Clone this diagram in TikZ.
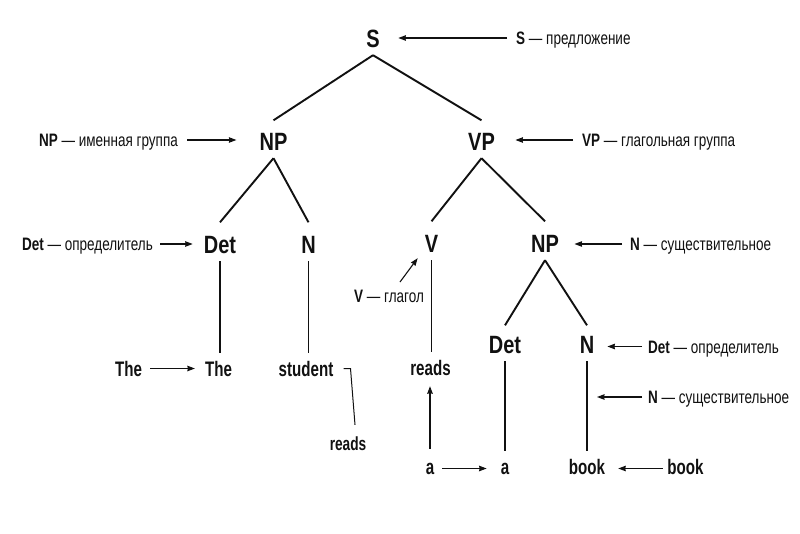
\documentclass[tikz,border=0pt]{standalone}
\usepackage{fontspec}
\setmainfont{Liberation Sans}
\newfontfamily\catfont{Liberation Sans}[FakeStretch=0.8]
\newfontfamily\leaffont{Liberation Sans}[FakeStretch=0.72]
\newfontfamily\labfont{Liberation Sans}[FakeStretch=0.75]
\usetikzlibrary{arrows.meta}
\definecolor{ink}{HTML}{111111}
\begin{document}
\begin{tikzpicture}[x=1pt,y=-1pt,
  cat/.style={font=\catfont\bfseries\fontsize{25}{28}\selectfont, text=ink, inner xsep=0pt, inner ysep=8pt, text height=17.5pt, text depth=0pt, anchor=base},
  leaf/.style={font=\leaffont\bfseries\fontsize{21}{24}\selectfont, text=ink, inner xsep=0pt, inner ysep=8pt, text height=15pt, text depth=0pt, anchor=base},
  smallleaf/.style={leaf, font=\leaffont\bfseries\fontsize{19}{22}\selectfont, text height=14pt},
  lab/.style={font=\labfont\fontsize{18}{21}\selectfont, text=ink, inner sep=0pt, text height=13pt, text depth=0pt},
  tree/.style={draw=ink, line width=1.9pt},
  arr/.style={draw=ink, line width=1.1pt, -{Stealth[length=7.5pt,width=5.5pt,inset=0.5pt]}},
  thinline/.style={draw=ink, line width=1pt}]
\useasboundingbox[fill=white] (0,0) rectangle (800,533);

% tree nodes
\node[cat] (S) at (373,47) {S};
\node[cat] (NP) at (273.5,150) {NP};
\node[cat] (VP) at (481.5,150) {VP};
\node[cat] (Det) at (220,253) {Det};
\node[cat] (N) at (308.5,253) {N};
\node[cat] (V) at (431.5,252) {V};
\node[cat] (NPb) at (545,252) {NP};
\node[cat] (Detb) at (505,353) {Det};
\node[cat] (Nb) at (587,353) {N};

% leaves
\node[leaf] (TheL) at (128.5,376) {The};
\node[leaf] (TheR) at (218.5,376) {The};
\node[leaf] (student) at (306,376) {student};
\node[leaf] (readsU) at (430.5,375) {reads};
\node[smallleaf] (readsB) at (348,450) {reads};
\node[leaf] (aL) at (430,474) {a};
\node[leaf] (aR) at (505,474) {a};
\node[leaf] (book) at (587,474) {book};
\node[leaf] (bookR) at (685.5,474) {book};

% labels
\node[lab, anchor=base west] (Slab) at (516,44.5) {\textbf{S} — предложение};
\node[lab, anchor=base east] (NPlab) at (178,146.5) {\textbf{NP} — именная группа};
\node[lab, anchor=base west] (VPlab) at (582,146.5) {\textbf{VP} — глагольная группа};
\node[lab, anchor=base east] (Detlab) at (153,250.5) {\textbf{Det} — определитель};
\node[lab, anchor=base west] (Nlab) at (630,250.5) {\textbf{N} — существительное};
\node[lab, anchor=base west] (Vlab) at (354,302) {\textbf{V} — глагол};
\node[lab, anchor=base west] (Detblab) at (648,353) {\textbf{Det} — определитель};
\node[lab, anchor=base west] (Nblab) at (648,403.5) {\textbf{N} — существительное};

% tree branches
\draw[tree] (S.south) -- ([yshift=4pt]NP.north);
\draw[tree] (S.south) -- ([yshift=4pt]VP.north);
\draw[tree] (NP.south) -- ([yshift=5pt]Det.north);
\draw[tree] (NP.south) -- ([yshift=5pt]N.north);
\draw[tree] (VP.south) -- ([yshift=5pt]V.north);
\draw[tree] (VP.south) -- ([yshift=5pt]NPb.north);
\draw[tree] (NPb.south) -- ([yshift=2pt]Detb.north);
\draw[tree] (NPb.south) -- ([yshift=2pt]Nb.north);
\draw[tree] (Det.south) -- (Det.south |- TheR.north);
\draw[tree] (N.south) -- (N.south |- student.north);
\draw[tree] (V.south) -- (V.south |- readsU.north);
\draw[tree] (Detb.south) -- (Detb.south |- aR.north);
\draw[tree] (Nb.south) -- (Nb.south |- book.north);

% label arrows
\draw[arr, shorten <=9pt, shorten >=18.5pt] (Slab.west) -- (Slab.west -| S.east);
\draw[arr, shorten <=9pt, shorten >=23pt] (NPlab.east) -- (NPlab.east -| NP.west);
\draw[arr, shorten <=9pt, shorten >=20.4pt] (VPlab.west) -- (VPlab.west -| VP.east);
\draw[arr, shorten <=7pt, shorten >=11pt] (Detlab.east) -- (Detlab.east -| Det.west);
\draw[arr, shorten <=8pt, shorten >=15.4pt] (Nlab.west) -- (Nlab.west -| NPb.east);
\draw[arr] ([xshift=46pt,yshift=20pt]Vlab.base west) -- ([xshift=-7pt,yshift=2pt]V.south west);
\draw[arr, shorten <=6pt, shorten >=13pt] (Detblab.west) -- (Detblab.west -| Nb.east);
\draw[arr, shorten <=6pt, shorten >=10pt] (Nblab.west) -- (Nblab.west -| Nb.south);

% leaf arrows
\draw[arr, shorten <=8pt, shorten >=10pt] (TheL.east) -- (TheL.east -| TheR.west);
\draw[arr, shorten <=2pt, shorten >=3pt] (aL.north) -- (aL.north |- readsU.south);
\draw[arr, shorten <=8pt, shorten >=14pt] ([yshift=-2pt]aL.east) -- ([yshift=-2pt]aL.east -| aR.west);
\draw[arr, shorten <=4.5pt, shorten >=13pt] ([yshift=-2pt]bookR.west) -- ([yshift=-2pt]bookR.west -| book.east);

% bracket from student to lower reads
\draw[thinline] ([xshift=10pt]student.east) -- ++(7,0) -- ([xshift=7pt,yshift=3pt]readsB.north);
\end{tikzpicture}
\end{document}
